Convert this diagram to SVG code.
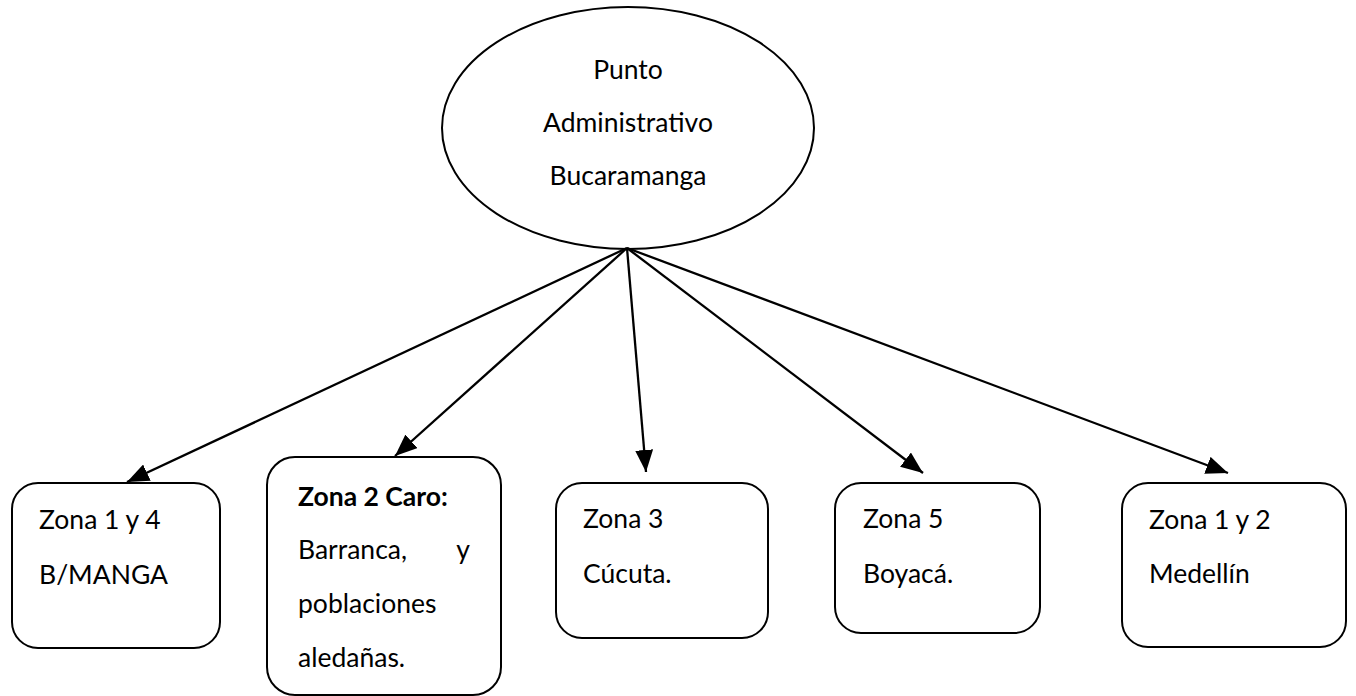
<svg xmlns="http://www.w3.org/2000/svg" width="1356" height="696" viewBox="0 0 1356 696">
<style>
.shape{fill:#fff;stroke:#000;stroke-width:2}
.t{font-family:Lato,"Open Sans","Liberation Sans",sans-serif;font-size:26.5px;fill:#000}
.b{font-weight:bold}
.c{stroke:#000;stroke-width:2.3;fill:none}
</style>
<defs>
<marker id="ah" markerUnits="userSpaceOnUse" viewBox="0 0 22 18" refX="22" refY="9" markerWidth="22" markerHeight="18" orient="auto">
<path d="M0,0 L22,9 L0,18 Z" fill="#000"/>
</marker>
</defs>
<rect width="1356" height="696" fill="#fff"/>
<g id="root">
<ellipse class="shape" cx="628" cy="128" rx="186" ry="121"/>
<text class="t" x="628" y="79" text-anchor="middle">Punto</text>
<text class="t" x="628" y="132" text-anchor="middle">Administrativo</text>
<text class="t" x="628" y="185" text-anchor="middle">Bucaramanga</text>
</g>
<g id="connectors">
<line class="c" x1="627" y1="248" x2="127" y2="482" marker-end="url(#ah)"/>
<line class="c" x1="627" y1="248" x2="395" y2="456" marker-end="url(#ah)"/>
<line class="c" x1="627" y1="248" x2="646" y2="472" marker-end="url(#ah)"/>
<line class="c" x1="627" y1="248" x2="923" y2="473" marker-end="url(#ah)"/>
<line class="c" x1="627" y1="248" x2="1228" y2="473" marker-end="url(#ah)"/>
</g>
<g id="zona14">
<rect class="shape" x="12" y="483" width="208" height="165" rx="26"/>
<text class="t" x="39" y="529">Zona 1 y 4</text>
<text class="t" x="39" y="584">B/MANGA</text>
</g>
<g id="zona2">
<rect class="shape" x="267" y="457" width="234" height="238" rx="28"/>
<text class="t b" x="298" y="506">Zona 2 Caro:</text>
<text class="t" x="298" y="559">Barranca,</text>
<text class="t" x="470" y="559" text-anchor="end">y</text>
<text class="t" x="298" y="613">poblaciones</text>
<text class="t" x="298" y="667">aledañas.</text>
</g>
<g id="zona3">
<rect class="shape" x="556" y="483" width="212" height="155" rx="26"/>
<text class="t" x="583" y="528">Zona 3</text>
<text class="t" x="583" y="583">Cúcuta.</text>
</g>
<g id="zona5">
<rect class="shape" x="835" y="483" width="205" height="150" rx="26"/>
<text class="t" x="863" y="528">Zona 5</text>
<text class="t" x="863" y="583">Boyacá.</text>
</g>
<g id="zona12">
<rect class="shape" x="1122" y="483" width="224" height="164" rx="26"/>
<text class="t" x="1149" y="529">Zona 1 y 2</text>
<text class="t" x="1149" y="583">Medellín</text>
</g>
</svg>
